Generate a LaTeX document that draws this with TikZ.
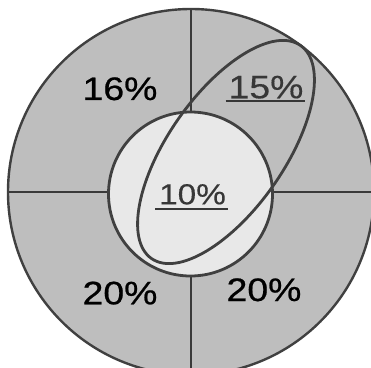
\documentclass[tikz,border=0pt]{standalone}
\usepackage{fontspec}
\setmainfont{Liberation Sans}
\newfontfamily\pctfont[FakeStretch=1.15,FakeBold=0.7]{Liberation Sans}
\newfontfamily\pctfontu[FakeStretch=1.15,FakeBold=0.3]{Liberation Sans}
\usetikzlibrary{calc}
\definecolor{outerfill}{RGB}{190,190,190}
\definecolor{innerfill}{RGB}{232,232,232}
\definecolor{edge}{RGB}{64,64,64}
\definecolor{graytext}{RGB}{55,55,55}
\tikzset{
  pct/.style={inner sep=0pt, outer sep=0pt, anchor=base, font=\pctfont\fontsize{32.5}{34}\selectfont, text=black},
  pctu/.style={inner sep=0pt, outer sep=0pt, anchor=base, font=\pctfontu\fontsize{32.5}{34}\selectfont, text=graytext},
  uline/.style={draw=graytext, line width=1.8pt},
  ring/.style={circle, inner sep=0pt, outer sep=0pt},
  cross/.style={draw=edge!90!black, line width=1.1pt},
  thick edge/.style={draw=edge, line width=2.8pt}
}
\begin{document}
\begin{tikzpicture}[x=1pt,y=1pt]
\useasboundingbox (0,0) rectangle (371,367);
\clip (0,0) rectangle (371,367);
\fill[white] (0,0) rectangle (371,367);
% outer disc
\node[ring, fill=outerfill, minimum size=366pt] (outer) at (191,175) {};
% cross lines
\draw[cross] (outer.north) -- (outer.south);
\draw[cross] (outer.west) -- (outer.east);
% inner disc
\node[ring, fill=innerfill, thick edge, minimum size=164pt] (inner) at (190.5,173) {};
% ellipse
\draw[thick edge] (226,215) ellipse[x radius=130, y radius=58, rotate=55];
% outer circle outline
\draw[draw=edge, line width=2.4pt] (outer.center) circle[radius=183];
% labels
\node[pct] (t16) at (120,267) {16\%};
\node[pctu] (t15) at (266,268.7) {15\%};
\draw[uline] ($(t15.base west)+(-3,-2.8)$) -- ($(t15.base east)+(2,-2.8)$);
\node[pctu, font=\pctfontu\fontsize{29}{30}\selectfont] (t10) at (192.5,162.7) {10\%};
\draw[uline] ($(t10.base west)+(-4,-4.8)$) -- ($(t10.base east)+(2,-4.8)$);
\node[pct] (t20a) at (120,62.7) {20\%};
\node[pct] (t20b) at (264,66) {20\%};
\end{tikzpicture}
\end{document}
